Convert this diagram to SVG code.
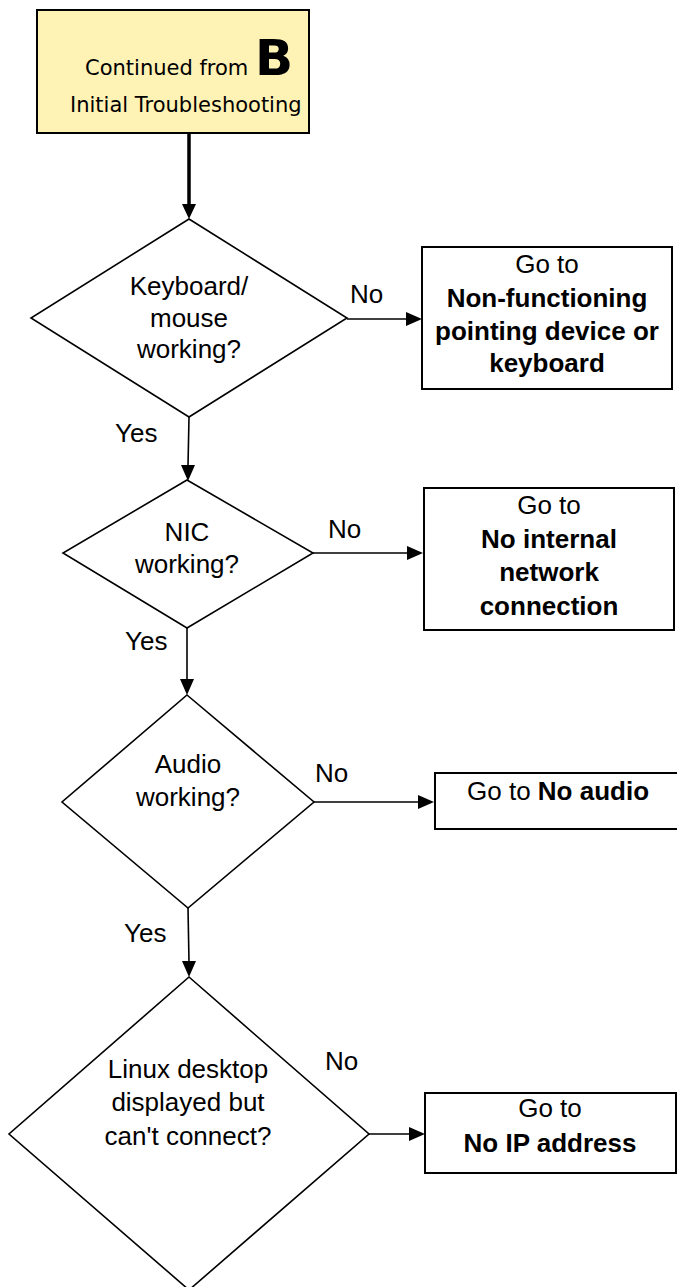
<svg xmlns="http://www.w3.org/2000/svg" width="677" height="1287" viewBox="0 0 677 1287">
<style>
text{font-family:"Liberation Sans",Arial,sans-serif;font-size:26px;fill:#000}
.c{text-anchor:middle}
.b{font-weight:bold}
.ts{font-family:"DejaVu Sans",Verdana,sans-serif;font-size:21px}
.dia{fill:#fff;stroke:#000;stroke-width:1.6}
.box{fill:#fff;stroke:#000;stroke-width:2}
.con{fill:none;stroke:#000;stroke-width:1.6}
.head{fill:#000}
</style>
<rect width="677" height="1287" fill="#fff"/>

<g id="connectors">
<line x1="189" y1="134" x2="189" y2="206" stroke="#000" stroke-width="3.5"/>
<path class="head" d="M182,204 L196,204 L189,219 Z"/>
<line class="con" x1="347" y1="319" x2="406" y2="319"/>
<path class="head" d="M406,312 L422,319 L406,326 Z"/>
<line class="con" x1="189" y1="417" x2="188" y2="466"/>
<path class="head" d="M181,465 L195,465 L188,481 Z"/>
<line class="con" x1="313" y1="553" x2="407" y2="553"/>
<path class="head" d="M407,546 L423,553 L407,560 Z"/>
<line class="con" x1="187" y1="628" x2="187" y2="680"/>
<path class="head" d="M180,679 L194,679 L187,695 Z"/>
<line class="con" x1="314" y1="802" x2="418" y2="802"/>
<path class="head" d="M418,795 L434,802 L418,809 Z"/>
<line class="con" x1="188" y1="908" x2="189" y2="962"/>
<path class="head" d="M182,961 L196,961 L189,977 Z"/>
<line class="con" x1="369" y1="1134" x2="409" y2="1134"/>
<path class="head" d="M409,1127 L425,1134 L409,1141 Z"/>
<text x="350" y="303">No</text>
<text x="328" y="538">No</text>
<text x="315" y="782">No</text>
<text x="325" y="1070">No</text>
<text x="115" y="442">Yes</text>
<text x="125" y="650">Yes</text>
<text x="124" y="942">Yes</text>
</g>

<g id="start">
<rect x="37" y="10" width="272" height="123" fill="#fff2b5" stroke="#000" stroke-width="2"/>
<text class="ts" x="85" y="75">Continued from <tspan font-size="50" font-weight="bold">B</tspan></text>
<text class="ts" x="70" y="112">Initial Troubleshooting</text>
</g>

<g id="d1">
<polygon class="dia" points="189,219 347,318 189,417 31,318"/>
<text class="c" x="189" y="295">Keyboard/</text>
<text class="c" x="189" y="327">mouse</text>
<text class="c" x="189" y="358">working?</text>
</g>

<g id="b1">
<rect class="box" x="422" y="247" width="250" height="142"/>
<text class="c" x="547" y="273">Go to</text>
<text class="c b" x="547" y="307">Non-functioning</text>
<text class="c b" x="547" y="340">pointing device or</text>
<text class="c b" x="547" y="372">keyboard</text>
</g>

<g id="d2">
<polygon class="dia" points="187,480 313,553 187,628 63,553"/>
<text class="c" x="187" y="541">NIC</text>
<text class="c" x="187" y="573">working?</text>
</g>

<g id="b2">
<rect class="box" x="424" y="488" width="250" height="142"/>
<text class="c" x="549" y="514">Go to</text>
<text class="c b" x="549" y="548">No internal</text>
<text class="c b" x="549" y="581">network</text>
<text class="c b" x="549" y="615">connection</text>
</g>

<g id="d3">
<polygon class="dia" points="187,695 314,802 188,908 62,802"/>
<text class="c" x="188" y="773">Audio</text>
<text class="c" x="188" y="806">working?</text>
</g>

<g id="b3">
<rect class="box" x="435" y="773" width="250" height="56"/>
<text x="467" y="800">Go to <tspan class="b">No audio</tspan></text>
</g>

<g id="d4">
<polygon class="dia" points="189,977 369,1134 189,1290 9,1134"/>
<text class="c" x="188" y="1078">Linux desktop</text>
<text class="c" x="188" y="1111">displayed but</text>
<text class="c" x="188" y="1145">can't connect?</text>
</g>

<g id="b4">
<rect class="box" x="425" y="1093" width="251" height="80"/>
<text class="c" x="550" y="1117">Go to</text>
<text class="c b" x="550" y="1152">No IP address</text>
</g>
</svg>
